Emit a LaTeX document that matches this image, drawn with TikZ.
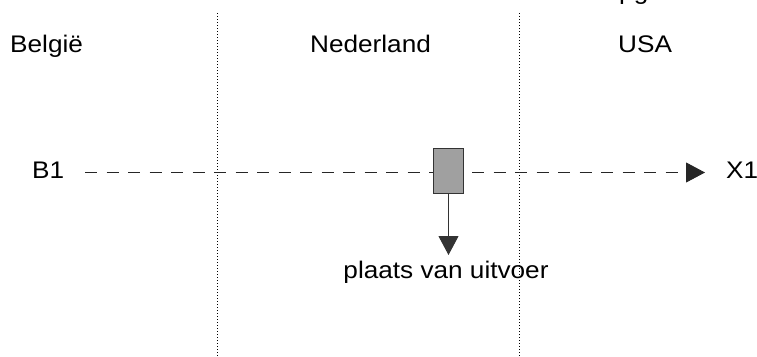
\documentclass[tikz,border=0pt]{standalone}
\usepackage{fontspec}
\setmainfont[FakeStretch=1.09]{Liberation Sans}
\usetikzlibrary{arrows.meta}
\definecolor{boxgray}{RGB}{160,160,160}
\tikzset{
  lbl/.style={anchor=base west, inner sep=0pt, font=\fontsize{24}{28}\selectfont},
  border/.style={black, line width=1pt, dash pattern=on 1pt off 2pt},
  flow/.style={black!85, line width=1pt, dash pattern=on 12pt off 9.5pt},
  tip/.style={-{Triangle[length=19pt,width=20pt]}},
  place/.style={draw=black!80, fill=boxgray, line width=1pt, minimum width=30pt, minimum height=45pt, inner sep=0pt},
}
\begin{document}
\begin{tikzpicture}[x=1pt,y=-1pt]
\useasboundingbox (0,0) rectangle (757,356);
\clip (0,0) rectangle (757,356);
% top cut-off text
\node[lbl] (pg) at (619,-1) {pg};
% country labels
\node[lbl] (be) at (10,52.5) {België};
\node[lbl] (nl) at (310,52.5) {Nederland};
\node[lbl] (us) at (618,52.5) {USA};
% borders
\coordinate (b1t) at (217.5,13);
\coordinate (b1b) at (217.5,356);
\coordinate (b2t) at (519.5,13);
\coordinate (b2b) at (519.5,356);
\draw[border] (b1t) -- (b1b);
\draw[border] (b2t) -- (b2b);
% flow
\node[lbl] (B1) at (32,178) {B1};
\node[lbl] (X1) at (726,178) {X1};
\coordinate (s) at (85,172.5);
\coordinate (t) at (705,172.5);
\draw[flow, tip] (s) -- (t);
\node[place] (box) at (448.5,170.5) {};
\node[lbl, anchor=base] (uit) at (446,278) {plaats van uitvoer};
\coordinate (d) at (448.5,255);
\draw[black!80, line width=1pt, tip] (box.south) -- (d);
\end{tikzpicture}
\end{document}
